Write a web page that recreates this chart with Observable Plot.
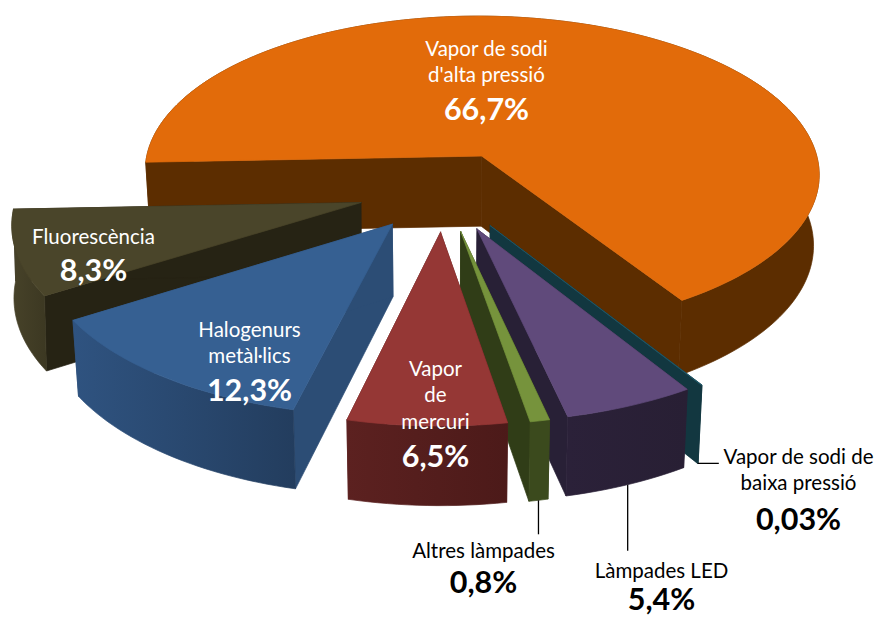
<!DOCTYPE html>
<html>
<head>
<meta charset="utf-8">
<script src="https://cdn.jsdelivr.net/npm/d3@7"></script>
<script src="https://cdn.jsdelivr.net/npm/@observablehq/plot@0.6"></script>
<style>html,body{margin:0;padding:0;background:#fff}svg{display:block}</style>
</head>
<body>
<div id="chart"></div>
<script>
// Data, counter-clockwise starting from the largest slice
const names = ["Vapor de sodi\nd'alta pressió","Fluorescència","Halogenurs\nmetàl·lics","Vapor\nde\nmercuri","Altres làmpades","Làmpades LED","Vapor de sodi de\nbaixa pressió"];
const values = [66.7, 8.3, 12.3, 6.5, 0.8, 5.4, 0.03];
const valueLabels = ["66,7%","8,3%","12,3%","6,5%","0,8%","5,4%","0,03%"];

// Styles
const topColors  = ["#e26b0a","#4a452a","#366092","#953735","#76933c","#604a7b","#215968"];
const cutColors  = ["#5c2d00","#262314","#2c4d75","#5a1f1e","#303d17","#282036","#123740"];
const wallFrom   = ["#5c2d00","#474229","#2f5380","#5c2120","#3b4a1d","#2b2139","#123740"];
const wallTo     = ["#5c2d00","#3c3822","#233d5e","#4c1a19","#3b4a1d","#281f34","#123740"];
const textColors = ["#fff","#fff","#fff","#fff","#000","#000","#000"];
const drawOrder  = [0,1,2,6,5,4,3];

// Label layout
const labelX = [486,93,249,435,483,661,798];
const labelY = [47,235,328,367,549,569,455];
const valueY = [110,271,391,457,583,600,520];
const lineH  = 26.5;
const leader = [null,null,null,null,[0,34],[0,66],[21,0]];

// Pie geometry
const explode = [0.245,0.25,0.25,0.25,0.25,0.25,0.25];
const shrink  = [0.015,0.005,0.015,0.015,0.015,0.015,0.015];
const k = 0.11, R = 343, Ry = 162.5, depth = 71.3, cx = 443, cy = 190;
const firstAngle = -237.8, arcStep = 1.5;
const total = d3.sum(values);
const rad = d => d * Math.PI / 180;

function project(X, Y, z, sh) {
  const s = 1 / (1 - k * Y);
  return {x: cx + R * X * s * (1 - sh * z), y: cy + Ry * Y * s + z * depth * Math.pow(s, 0.75)};
}

let running = firstAngle;
const slices = values.map((v, i) => {
  const a0 = running, a1 = running + v / total * 360;
  running = a1;
  const m = rad((a0 + a1) / 2);
  return {i, a0, a1, ox: -Math.cos(m) * explode[i], oy: Math.sin(m) * explode[i]};
});
const rim = (sl, a, z) => project(sl.ox - Math.cos(rad(a)), sl.oy + Math.sin(rad(a)), z, shrink[sl.i]);
const apex = (sl, z) => project(sl.ox, sl.oy, z, shrink[sl.i]);
function arc(sl, z) {
  const n = Math.max(1, Math.ceil((sl.a1 - sl.a0) / arcStep)), out = [];
  for (let j = 0; j <= n; ++j) out.push(rim(sl, sl.a0 + (sl.a1 - sl.a0) * j / n, z));
  return out;
}

const faces = [];
const addFace = (id, fill, pts) => [...pts, pts[0]].forEach(p => faces.push({id, fill, x: p.x, y: p.y}));
for (const o of drawOrder) {
  const sl = slices[o];
  addFace(`${o}s`, cutColors[o], [apex(sl,0), rim(sl,sl.a1,0), rim(sl,sl.a1,1), apex(sl,1)]);
  addFace(`${o}e`, cutColors[o], [apex(sl,0), rim(sl,sl.a0,0), rim(sl,sl.a0,1), apex(sl,1)]);
  addFace(`${o}w`, `url(#wall${o})`, [...arc(sl,0), ...arc(sl,1).reverse()]);
  addFace(`${o}t`, topColors[o], [apex(sl,0), ...arc(sl,0)]);
}

const rows = names.map((name, i) => ({name, value: valueLabels[i], x: labelX[i], y: labelY[i] + (name.split("\n").length - 1) * lineH / 2, vy: valueY[i], color: textColors[i]}));
const leaders = slices.filter(sl => leader[sl.i]).map(sl => {
  const p = rim(sl, (sl.a0 + sl.a1) / 2, 1);
  return {x1: p.x, y1: p.y, x2: p.x + leader[sl.i][0], y2: p.y + leader[sl.i][1]};
});

const font = "Lato, Carlito, sans-serif";
const svg = Plot.plot({
  width: 876, height: 617, margin: 0,
  x: {domain: [0, 876], range: [0, 876], axis: null},
  y: {domain: [0, 617], range: [0, 617], axis: null},
  style: {background: "#fff"},
  marks: [
    Plot.line(faces, {x: "x", y: "y", z: "id", fill: {value: "fill", scale: null}, stroke: {value: "fill", scale: null}, strokeWidth: 0.7, curve: "linear"}),
    Plot.link(leaders, {x1: "x1", y1: "y1", x2: "x2", y2: "y2", stroke: "#000", strokeWidth: 1.3}),
    Plot.text(rows, {x: "x", y: "y", text: "name", fill: {value: "color", scale: null}, fontSize: 20.5, fontFamily: font, lineHeight: lineH / 20.5}),
    Plot.text(rows, {x: "x", y: "vy", text: "value", fill: {value: "color", scale: null}, fontSize: 30.5, fontWeight: 700, fontFamily: font})
  ]
});
const defs = d3.select(svg).insert("defs", ":first-child");
values.forEach((_, i) => {
  const g = defs.append("linearGradient").attr("id", `wall${i}`).attr("x1", 0).attr("x2", 1).attr("y1", 0).attr("y2", 0);
  g.append("stop").attr("offset", "0%").attr("stop-color", wallFrom[i]);
  g.append("stop").attr("offset", "100%").attr("stop-color", wallTo[i]);
});
document.getElementById("chart").append(svg);
</script>
</body>
</html>
